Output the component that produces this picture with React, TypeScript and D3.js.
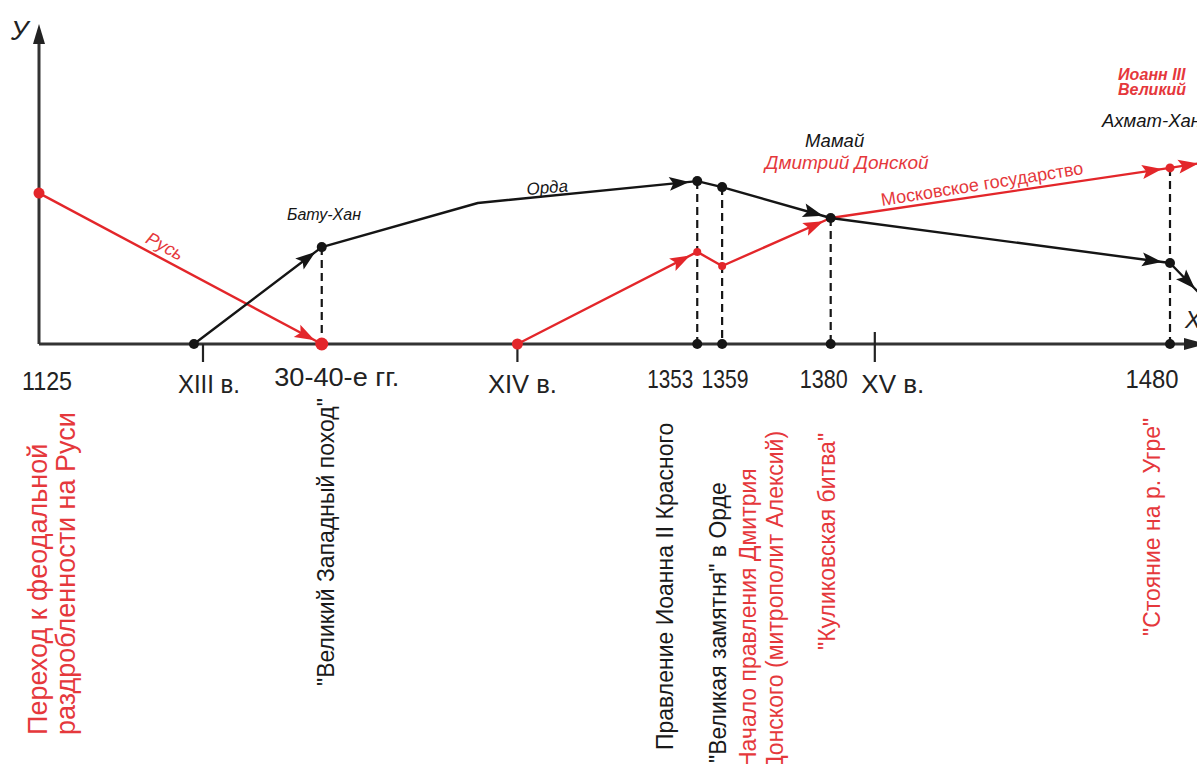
import React from 'react';
import * as d3 from 'd3';

// schematic positions: pos = place along the time axis (0..100), val = "strength" (0..100)
const axisLabels = ['1125', 'XIII в.', '30-40-е гг.', 'XIV в.', '1353', '1359', '1380', 'XV в.', '1480'];
const axisPos = [0, 14.5, 25.0, 42.3, 58.2, 60.4, 70.0, 73.9, 100];
const centuryPos = [14.5, 42.3, 73.9];

const rusPos = [0, 25.0];
const rusVal = [50.3, 0];

const hordePos = [13.7, 25.0, 38.8, 58.2, 60.4, 70.0, 100, 102.7];
const hordeVal = [0, 32.3, 47, 54.3, 52.3, 42, 27, 16.5];
const hordeArrow = [true, false, true, false, true, true, true];

const moscowPos = [42.3, 58.2, 60.4, 70.0, 100, 103.2];
const moscowVal = [0, 30.7, 26, 42, 58.7, 60.6];
const moscowArrow = [true, false, true, true, true];

const dropPos = [25.0, 58.2, 60.4, 70.0, 100];
const dropVal = [32.3, 54.3, 52.3, 42, 58.7];

const captionTexts = [
  'Переход к феодальной',
  'раздробленности на Руси',
  '"Великий Западный поход"',
  'Правление Иоанна II Красного',
  '"Великая замятня" в Орде',
  'Начало правления Дмитрия',
  'Донского (митрополит Алексий)',
  '"Куликовская битва"',
  '"Стояние на р. Угре"',
];
const captionPos = [0, 0, 25.0, 58.2, 60.4, 60.4, 60.4, 70.0, 100];
const captionRed = [true, true, false, false, false, true, true, true, true];

const RED = '#e3262a';
const RED_TXT = '#e5383c';
const INK = '#151515';
const SANS = '"Liberation Sans", Arial, sans-serif';

const W = 1197;
const H = 764;

const x = d3.scaleLinear().domain([0, 100]).range([39, 1170]);
const y = d3.scaleLinear().domain([0, 100]).range([344, 44]);

// label nudges (dx from position, baseline y, drawn width)
const axisLabelDx = [8, 6, 15, 5, -27, 3, -7, 18, -18];
const axisLabelY = [390, 393, 386, 393, 388, 388, 388, 393, 388];
const axisLabelW = [50, 62, 125, 69, 46, 47, 48, 63, 53];
const captionDx = [-1, 27, 4, -32, -4, 26, 53, -4, -18];
const captionBottom = [735, 735, 686, 750, 763, 768, 771, 650, 636];
const captionSize = [27, 27, 23, 23, 23, 23, 23, 23, 23];

function arrowHead(x0: number, y0: number, x1: number, y1: number, gap = 8, len = 20, hw = 7) {
  const dx = x1 - x0, dy = y1 - y0;
  const l = Math.hypot(dx, dy);
  const ux = dx / l, uy = dy / l;
  const tx = x1 - ux * gap, ty = y1 - uy * gap;
  const bx = tx - ux * len, by = ty - uy * len;
  const nx = -uy * hw, ny = ux * hw;
  return `M${tx},${ty}L${bx + nx},${by + ny}L${bx + ux * 4},${by + uy * 4}L${bx - nx},${by - ny}Z`;
}

function Series({ pos, val, arrows, color }: { pos: number[]; val: number[]; arrows: boolean[]; color: string }) {
  const pts = pos.map((p, i) => [x(p), y(val[i])] as [number, number]);
  const line = d3.line();
  return (
    <g>
      <path d={line(pts) || ''} fill="none" stroke={color} strokeWidth={2.4} strokeLinejoin="round" />
      {arrows.map((a, i) =>
        a ? <path key={i} d={arrowHead(pts[i][0], pts[i][1], pts[i + 1][0], pts[i + 1][1])} fill={color} /> : null
      )}
    </g>
  );
}

export default function App() {
  const y0 = y(0);
  return (
    <svg width={W} height={H} style={{ position: 'absolute', left: 0, top: 0, background: '#fff' }}>
      <rect width={W} height={H} fill="#fff" />

      {/* axes */}
      <line x1={x(0)} y1={y0} x2={x(0)} y2={34} stroke="#333" strokeWidth={3} />
      <path d={`M${x(0)},24L${x(0) - 6},44L${x(0) + 6},44Z`} fill="#222" />
      <text x={11} y={40} fontFamily={SANS} fontStyle="italic" fontSize={27} fill="#222">У</text>
      <line x1={x(0)} y1={y0} x2={1200} y2={y0} stroke="#333" strokeWidth={3} />
      <path d={`M1206,${y0}L1184,${y0 - 6}L1184,${y0 + 6}Z`} fill="#222" />
      <text x={1185} y={328} fontFamily={SANS} fontStyle="italic" fontSize={24} fill="#222">Х</text>

      {centuryPos.map((p, i) => (
        <line key={i} x1={x(p)} x2={x(p)} y1={i === 2 ? y0 - 12 : y0} y2={y0 + 18} stroke="#222" strokeWidth={2.2} />
      ))}

      {/* drop lines */}
      {dropPos.map((p, i) => (
        <line key={i} x1={x(p)} x2={x(p)} y1={y(dropVal[i])} y2={y0} stroke={INK} strokeWidth={2.2} strokeDasharray="8,5" />
      ))}

      <Series pos={rusPos} val={rusVal} arrows={[true]} color={RED} />
      <Series pos={moscowPos} val={moscowVal} arrows={moscowArrow} color={RED} />
      <Series pos={hordePos} val={hordeVal} arrows={hordeArrow} color={INK} />

      {/* red dots */}
      <circle cx={x(rusPos[0])} cy={y(rusVal[0])} r={5.5} fill={RED} />
      <circle cx={x(rusPos[1])} cy={y(rusVal[1])} r={6.5} fill={RED} />
      <circle cx={x(moscowPos[0])} cy={y(moscowVal[0])} r={5.5} fill={RED} />
      {[1, 2].map((i) => (
        <circle key={i} cx={x(moscowPos[i])} cy={y(moscowVal[i])} r={4} fill={RED} />
      ))}
      <circle cx={x(moscowPos[4])} cy={y(moscowVal[4])} r={4.5} fill={RED} />

      {/* black dots */}
      <circle cx={x(hordePos[0])} cy={y(hordeVal[0])} r={5} fill={INK} />
      {[1, 3, 4, 5, 6].map((i) => (
        <circle key={i} cx={x(hordePos[i])} cy={y(hordeVal[i])} r={5} fill={INK} />
      ))}
      {[58.2, 60.4, 70.0, 100].map((p) => (
        <circle key={p} cx={x(p)} cy={y0} r={5} fill={INK} />
      ))}

      {/* inline labels */}
      <text transform={`translate(165,246) rotate(28)`} textAnchor="middle" dy="0.35em" fontFamily={SANS} fontStyle="italic" fontSize={18} fill={RED_TXT}>Русь</text>
      <text x={287} y={220} fontFamily={SANS} fontStyle="italic" fontSize={16} fill={INK}>Бату-Хан</text>
      <text transform={`translate(527,195) rotate(-5)`} fontFamily={SANS} fontStyle="italic" fontSize={17} fill={INK}>Орда</text>
      <text x={805} y={147} fontFamily={SANS} fontStyle="italic" fontSize={18.5} fill={INK}>Мамай</text>
      <text x={765} y={169} fontFamily={SANS} fontStyle="italic" fontSize={19} fill={RED_TXT}>Дмитрий Донской</text>
      <text transform={`translate(882,206) rotate(-9)`} fontFamily={SANS} fontSize={18} fill={RED_TXT}>Московское государство</text>
      <text x={1118} y={80} fontFamily={SANS} fontStyle="italic" fontWeight={600} fontSize={16} fill={RED_TXT}>Иоанн III</text>
      <text x={1118} y={95} fontFamily={SANS} fontStyle="italic" fontWeight={600} fontSize={16} fill={RED_TXT}>Великий</text>
      <text x={1102} y={127} fontFamily={SANS} fontStyle="italic" fontSize={18.5} fill={INK}>Ахмат-Хан</text>

      {/* axis labels */}
      {axisLabels.map((t, i) => (
        <text
          key={t}
          x={x(axisPos[i]) + axisLabelDx[i] - axisLabelW[i] / 2}
          y={axisLabelY[i]}
          textLength={axisLabelW[i]}
          lengthAdjust="spacingAndGlyphs"
          fontFamily={SANS}
          fontSize={26}
          fill="#222"
        >
          {t}
        </text>
      ))}

      {/* vertical captions */}
      {captionTexts.map((t, i) => (
        <text
          key={t}
          transform={`translate(${x(captionPos[i]) + captionDx[i]},${captionBottom[i]}) rotate(-90)`}
          dy="0.35em"
          fontFamily={SANS}
          fontSize={captionSize[i]}
          fill={captionRed[i] ? RED_TXT : '#1a1a1a'}
        >
          {t}
        </text>
      ))}
    </svg>
  );
}
